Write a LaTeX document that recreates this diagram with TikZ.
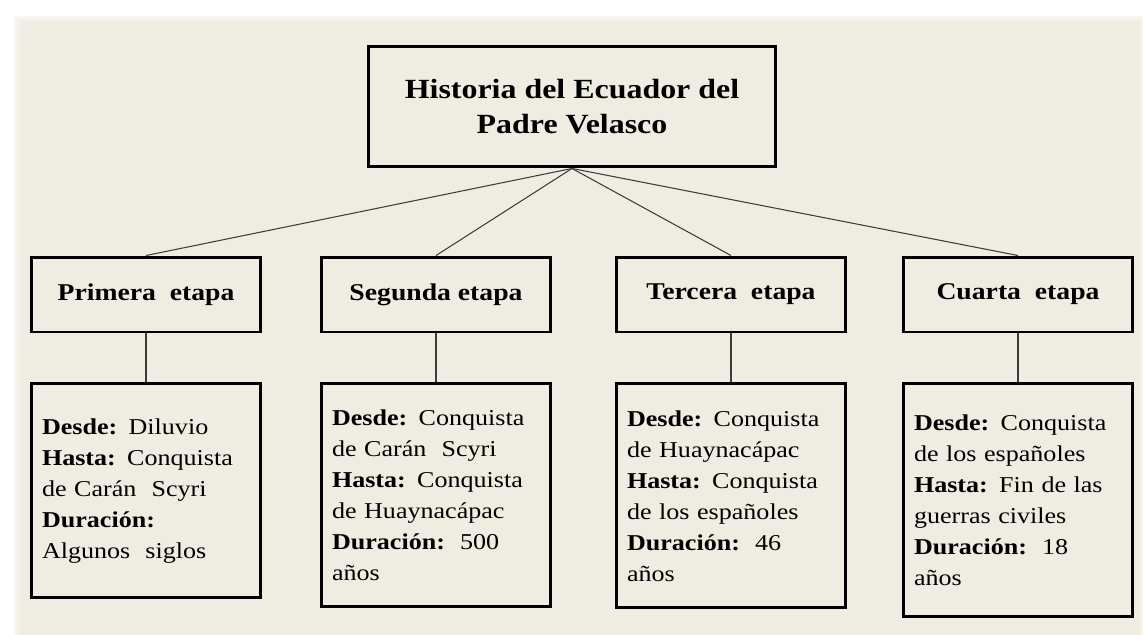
\documentclass[tikz,border=0pt]{standalone}
\usepackage{fontspec}
\setmainfont{Liberation Serif}[FakeStretch=1.15]
\usetikzlibrary{positioning}
\definecolor{papel}{RGB}{239,236,225}
\definecolor{linea}{RGB}{60,60,60}
\tikzset{
    x=0.02cm, y=-0.02cm, % one unit is one pixel of the page, y goes down
    node distance=0.98cm, % gap between a stage box and its detail box
    caja/.style={draw=black, line width=1.7pt, fill=papel}, % every box
    titulo/.style={caja, minimum width=8.14cm, minimum height=2.42cm,
        align=center, font=\bfseries\fontsize{15.8}{19.9}\selectfont},
    etapa/.style={caja, minimum width=4.6cm, minimum height=1.5cm,
        font=\bfseries\fontsize{13.7}{16}\selectfont},
    detalle/.style={caja, text width=4.16cm, inner xsep=0.22cm, align=left,
        font=\fontsize{12.9}{17.6}\selectfont},
    conn/.style={draw=linea, line width=0.6pt},
}

\begin{document}
\begin{tikzpicture}
  \useasboundingbox (0,0) rectangle (1143,635);
  % paper with soft edges
  \fill[white] (0,0) rectangle (1143,635);
  \foreach \k in {0,...,5}
    \fill[papel, opacity=0.4] (14+2*\k,16+2*\k) rectangle (1143-\k,635);
  \fill[papel] (26,28) rectangle (1137,635);

  \node[titulo] (hist) at (572,106.5) {Historia del Ecuador del\\Padre Velasco};

  \node[etapa] (e_1) at (146,294.5)  {Primera\ \ etapa};
  \node[etapa] (e_2) at (436,294.5)  {Segunda etapa};
  \node[etapa] (e_3) at (731,294.5)  {Tercera\ \ etapa};
  \node[etapa] (e_4) at (1018,294.5) {Cuarta\ \ etapa};

  \node[detalle, minimum height=4.28cm] (d_1) [below=of e_1]
    {\textbf{Desde:} Diluvio\\\textbf{Hasta:} Conquista\\de Carán\ \ Scyri\\
     \textbf{Duración:}\\Algunos\ \ siglos};
  \node[detalle, minimum height=4.46cm] (d_2) [below=of e_2]
    {\textbf{Desde:} Conquista\\de Carán\ \ Scyri\\\textbf{Hasta:} Conquista\\
     de Huaynacápac\\\textbf{Duración:}\ \ 500\\años};
  \node[detalle, minimum height=4.48cm] (d_3) [below=of e_3]
    {\textbf{Desde:} Conquista\\de Huaynacápac\\\textbf{Hasta:} Conquista\\
     de los españoles\\\textbf{Duración:}\ \ 46\\años};
  \node[detalle, minimum height=4.66cm] (d_4) [below=of e_4]
    {\textbf{Desde:} Conquista\\de los españoles\\\textbf{Hasta:} Fin de las\\
     guerras civiles\\\textbf{Duración:}\ \ 18\\años};

  \path[conn]
    (hist.south) edge (e_1.north)
                 edge (e_2.north)
                 edge (e_3.north)
                 edge (e_4.north)
    (e_1) edge (d_1)
    (e_2) edge (d_2)
    (e_3) edge (d_3)
    (e_4) edge (d_4);
\end{tikzpicture}
\end{document}
